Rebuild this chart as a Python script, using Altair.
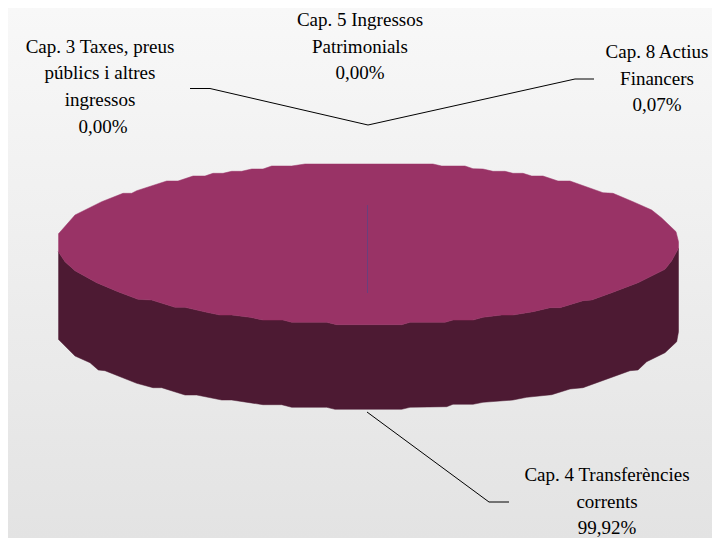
import altair as alt
import pandas as pd

# Budget shares (percent) by chapter
chapters = ["Cap. 3 Taxes, preus públics i altres ingressos", "Cap. 5 Ingressos Patrimonials",
            "Cap. 8 Actius Financers", "Cap. 4 Transferències corrents"]
shares = ["0,00%", "0,00%", "0,07%", "99,92%"]

# Outline of the pie
top_x = [58.3, 75, 101.7, 123, 131.7, 136.7, 166.7, 178, 193, 205, 213, 223, 231.7, 241.7, 251.7, 263, 271.7, 291.7, 305,
         433, 441.7, 465, 473, 483, 493, 505, 513, 523, 531.7, 543, 558, 570, 603, 613, 633, 651.7, 661.7, 676, 678.5]
top_y = [234, 215, 201.7, 193.3, 193.3, 190.7, 181, 181, 176, 176, 173.3, 173.3, 171.3, 171.3, 169, 169, 166, 166, 164,
         164, 166, 166, 168.7, 169, 171.3, 171.3, 173.3, 173.3, 176, 176, 181, 181, 192.7, 193.3, 201.7, 210, 218, 231.7, 241.7]
rim_x = [58.3, 65, 75, 96.7, 118, 138, 151.7, 175, 185, 206.7, 220, 231.7, 250, 263, 283, 291.7, 326.7, 336.7,
         401.7, 410, 445, 453, 473, 483, 501.7, 513, 533, 550, 560, 583, 591.7, 611.7, 638, 665, 671.7, 678.5]
rim_y = [251.7, 261.7, 270.7, 282.7, 291.7, 299.3, 300, 307.3, 307.3, 312.3, 315, 315, 317.3, 320, 320, 322.3, 322.3, 324.7,
         324.7, 322.3, 322.3, 320, 320, 317.3, 315, 315, 311.7, 307.7, 307.7, 300.7, 300, 292.7, 282.7, 269.3, 260.7, 248.3]
base_x = [58.3, 75, 90, 98.3, 105, 136.7, 153, 161.7, 185, 196.7, 221.7, 231.7, 263, 281.7, 291.7, 326.7, 335,
          401.7, 410, 446.7, 453, 473, 483, 513, 526.7, 551.7, 570, 583, 630, 638, 646.7, 665, 676.7, 678.5]
base_y = [339.3, 356, 362.7, 370, 370.7, 383.3, 387.7, 387.7, 395, 395, 400, 400, 404.7, 404.7, 407.3, 407.3, 409.3,
          409.3, 407.3, 406.7, 404.3, 404.3, 402.3, 400, 397.3, 394.7, 389, 387.7, 370.7, 370, 361.7, 352.7, 341.7, 331.7]

# Label lines
label_text = ["Cap. 5 Ingressos", "Patrimonials", "0,00%",
              "Cap. 3 Taxes, preus", "públics i altres", "ingressos", "0,00%",
              "Cap. 8 Actius", "Financers", "0,07%",
              "Cap. 4 Transferències", "corrents", "99,92%"]
label_x = [360, 360, 360, 100, 100, 100, 103, 657, 657, 657, 607, 607, 607]
label_y = [20, 47, 73, 47, 73, 100, 127, 52, 78.5, 105, 475, 501.7, 528]

# Leader lines
leader_id = ["a", "a", "a", "a", "a", "b", "b", "b"]
leader_x = [190, 210, 368, 575, 594, 367, 489, 509]
leader_y = [88.5, 88.5, 125, 79, 79, 412, 502, 502]

# Thin slice edge
edge_x = [367.5, 367.5]
edge_y = [205, 293]

X = alt.Scale(domain=[8, 712], range=[0, 704])
Y = alt.Scale(domain=[8, 538], range=[0, 530])


def xe(field):
    return alt.X(field, type="quantitative", scale=X, axis=None)


def ye(field):
    return alt.Y(field, type="quantitative", scale=Y, axis=None)


def poly(xs, ys):
    return pd.DataFrame({"x": xs, "y": ys, "i": range(len(xs))})


bg = alt.Chart(pd.DataFrame({"a": [0]})).mark_rect(
    fill=alt.Gradient(gradient="linear", x1=0, x2=0, y1=0, y2=1,
                      stops=[alt.GradientStop(color="#f8f8f8", offset=0),
                             alt.GradientStop(color="#e3e3e3", offset=1)])
).encode(x=alt.value(0), x2=alt.value(704), y=alt.value(0), y2=alt.value(530))

side = alt.Chart(poly(rim_x + base_x[::-1], rim_y + base_y[::-1])).mark_line(
    fill="#4d1a33", stroke="#4d1a33", strokeWidth=0.5, interpolate="linear"
).encode(x=xe("x"), y=ye("y"), order="i:Q")

face = alt.Chart(poly(top_x + rim_x[::-1], top_y + rim_y[::-1])).mark_line(
    fill="#993366", stroke="#993366", strokeWidth=0.5, interpolate="linear"
).encode(x=xe("x"), y=ye("y"), order="i:Q")

edge = alt.Chart(pd.DataFrame({"x": edge_x, "y": edge_y, "i": [0, 1]})).mark_line(
    color="#6a3f7c", strokeWidth=1
).encode(x=xe("x"), y=ye("y"), order="i:Q")

leaders = alt.Chart(pd.DataFrame({"x": leader_x, "y": leader_y, "id": leader_id,
                                  "i": range(len(leader_x))})).mark_line(
    color="#000000", strokeWidth=1
).encode(x=xe("x"), y=ye("y"), detail="id:N", order="i:Q")

labels = alt.Chart(pd.DataFrame({"x": label_x, "y": label_y, "t": label_text})).mark_text(
    font="Liberation Serif", fontSize=19, color="#000000", align="center", baseline="middle"
).encode(x=xe("x"), y=ye("y"), text="t:N")

chart = alt.layer(bg, side, face, edge, leaders, labels).properties(
    width=704, height=530, padding=0, autosize=alt.AutoSizeParams(type="none")
).configure_view(stroke=None)

chart.save("out.html", embed_options={"renderer": "svg", "actions": False})
